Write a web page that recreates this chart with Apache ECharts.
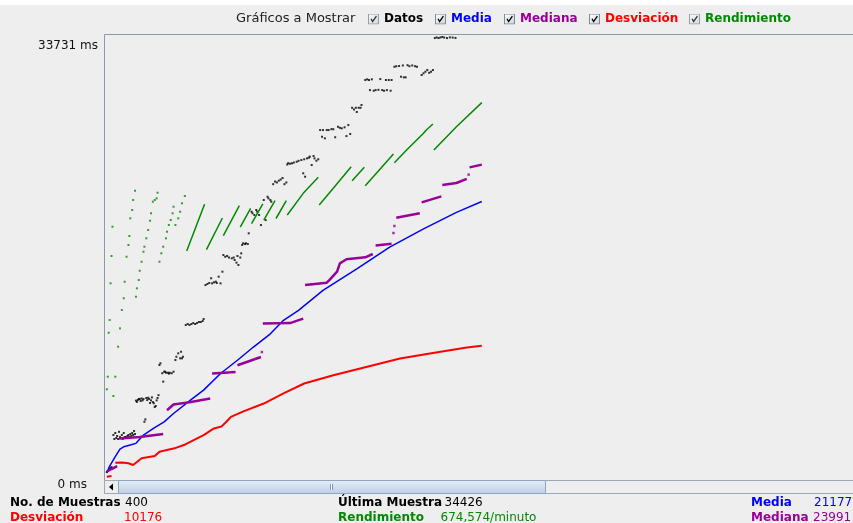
<!DOCTYPE html>
<html>
<head>
<meta charset="utf-8">
<script src="https://cdn.jsdelivr.net/npm/echarts/dist/echarts.min.js"></script>
<style>
html,body{margin:0;padding:0;background:#eeeeee;}
#chart{width:853px;height:523px;}
</style>
</head>
<body>
<div id="chart"></div>
<script>
// ---- data (sample index, milliseconds) ----
const yAxisMax = 33731;
const seriesNames = ['Datos', 'Media', 'Mediana', 'Desviación', 'Rendimiento'];

const datos = [
  [1,530],[2,610],[3,690],[4,760],[5,840],[6,910],
  [8,3360],[9,3050],[10,3510],[11,3130],[12,3280],[13,3050],[14,3600],[15,3200],[16,3130],[17,3360],[18,3050],[19,3510],[20,3200],[21,3210],[22,3130],[23,3280],[24,3360],[25,3200],[26,3430],[27,3280],[28,3510],[29,3360],[30,3660],[31,3430],
  [32,5980],[33,5880],[34,6030],[35,6110],[36,6100],[37,5950],[38,6150],[39,6000],[40,6100],[41,4370],[42,4550],[43,6180],[44,6020],[45,6200],[46,6110],[47,5800],[48,6000],[49,6230],[50,5870],[51,5780],[52,5490],[53,5570],[54,6000],[55,6180],[56,6400],
  [57,8700],[58,8830],[60,8070],[61,7430],[62,8190],[63,8190],[64,8110],[66,8110],[67,8040],[68,8110],[70,8070],[72,8190],[74,9080],[75,9330],[77,9590],[79,9210],[80,9710],[81,9210],[82,9330],
  [85,11750],[87,11830],[89,11750],[91,11830],[93,11900],[95,11830],[97,11900],[99,11980],[101,11980],[103,12060],[104,12210],
  [106,14800],[108,14880],[110,14960],[112,15320],[113,14930],[115,15010],[117,15060],[118,14960],[120,15440],[122,14930],[124,15820],
  [125,17090],[127,16960],[129,17020],[131,16900],[134,16840],[136,16900],[137,16710],[139,16510],[140,17020],[141,16330],[143,16900],[144,17220],
  [145,17860],[146,17990],[148,17930],[149,17990],[151,17930],[152,18750],
  [155,20400],[156,20280],[158,20150],[160,20530],[161,20400],[163,20150],[165,19380],[168,21290],[170,19760],[172,21540],[173,21420],[175,21290],[176,21160],
  [178,22500],[180,22700],[182,22630],[184,22770],[186,22850],[188,22970],[190,22500],[192,22630],
  [193,24000],[194,24100],[196,24060],[198,24090],[200,24150],[203,24210],[205,24280],[208,24340],[210,23330],[211,24400],[212,23070],[214,24470],[216,24520],[217,24600],[219,23960],[221,24650],[222,24470],[224,24290],[226,24400],
  [228,26630],[230,26120],[231,26630],[233,26000],[235,26630],[237,26630],[240,26700],[242,26690],[244,26080],[247,26880],[249,26800],[251,26760],[254,26840],[256,26170],[258,27010],[260,26330],
  [262,28330],[264,28200],[266,28330],[267,28010],[269,28330],[271,28330],[272,28540],
  [276,30450],[278,30500],[280,30450],[283,30500],[292,30520],[298,30450],[301,30450],[304,30450],
  [281,29680],[285,29630],[287,29680],[290,29700],[294,29680],[296,29630],[299,29680],[303,29630],
  [307,31460],[309,31500],[312,31520],[316,31560],[321,31580],[323,31500],[326,31560],[329,31500],[331,31460],
  [314,30700],[317,30650],[319,30650],
  [336,30830],[338,30960],[340,31080],[342,31210],[344,31000],[346,31080],[348,31210],
  [350,33650],[352,33700],[354,33650],[356,33700],[358,33731],[360,33690],[363,33650],[366,33700],[369,33690],[372,33660],
  [400,34426]
];

const media = [
  [1,460],[4,990],[10,1700],[15,2280],[19,2460],[26,2600],[32,2720],[40,3350],[51,3880],[62,4360],[72,5000],
  [90,6015],[104,6780],[122,8050],[140,9060],[157,10070],[175,11080],[189,12110],[205,12870],[231,14390],
  [267,16040],[302,17690],[338,19090],[373,20350],[400,21177]
];

const mediana = [
  [1,556],[6,761],[12,990], null,
  [14,3100],[36,3200],[61,3430], null,
  [65,5250],[72,5690],[89,5860],[111,6150], null,
  [113,8050],[138,8170], null,
  [140,8680],[165,9310], null,
  [167,11860],[196,11900],[210,12240], null,
  [212,14800],[235,14980],[238,15190],[246,15820],[249,16460],[256,16770],[276,16920],[284,17170], null,
  [287,17820],[304,17950], null,
  [309,19930],[334,20280], null,
  [336,21110],[357,21570], null,
  [358,22440],[373,22590],[384,22900], null,
  [387,23780],[400,23991]
];
const medianaPuntos = [[166,9690],[306,18770],[307,19310],[386,23230]];

const desviacion = [
  [1,180],[6,230], null,
  [10,1240],[17,1260],[24,1200],[29,1070],[31,1100],[38,1580],[52,1750],[57,2080],[73,2340],[83,2590],[95,3020],
  [104,3350],[115,3860],[123,4000],[128,4350],[133,4740],[147,5180],[168,5760],[189,6530],[211,7290],[242,7920],
  [277,8550],[313,9190],[348,9620],[384,10030],[400,10176]
];

const rendimientoPuntos = [
  [1,6845],[2,7807],[3,11164],[4,12133],[5,14934],[6,17017],[7,19253],
  [8,6334],[10,7807],[13,10096],[15,11500],[17,12896],[19,13790],[20,15056],[22,16964],[24,17857],[25,18543],[26,19894],[28,20527],[29,21290],[31,22000],
  [32,13911],[33,14552],[35,15186],[36,15895],[38,16582],[40,17345],[41,17727],[43,18368],[45,19001],[47,19711],[48,20276],[50,21161],[52,21290],[54,21420],[55,21847],
  [57,16582],[59,17223],[61,17727],[64,18368],[65,18871],[67,19383],[69,19764],[71,20276],[72,20779],
  [74,19383],[77,19894],[79,20398],[81,21038],[84,21596]
];

const rendimientoLineas = [
  [86,17400],[105,20960], null,
  [107,17510],[124,19920], null,
  [125,18580],[142,20860], null,
  [143,19230],[154,20660], null,
  [155,19480],[167,20990], null,
  [168,19760],[180,21250], null,
  [181,19880],[192,21240], null,
  [193,20150],[210,21800],[226,23020], null,
  [227,20910],[244,22360],[261,23830], null,
  [262,22760],[275,23790], null,
  [276,22380],[306,24800], null,
  [307,24140],[320,25110],[338,26380],[341,26630],[343,26690],[348,27090], null,
  [349,25110],[373,26880],[400,28720]
];

const footerLabels = ['No. de Muestras', 'Desviación', 'Última Muestra', 'Rendimiento', 'Media', 'Mediana'];
const footerValues = ['400', '10176', '34426', '674,574/minuto', '21177', '23991'];

// ---- styling ----
const FONT = 'DejaVu Sans';
const colors = {
  'Datos': '#000000', 'Media': '#0000ff', 'Mediana': '#990099',
  'Desviación': '#ff0000', 'Rendimiento': '#008a00'
};
const gaps = arr => arr.map(p => p === null ? '-' : p);

const svg = "<svg xmlns='http://www.w3.org/2000/svg' width='11' height='11'>" +
  "<defs><linearGradient id='g' x1='0' y1='0' x2='1' y2='1'><stop offset='0' stop-color='#ffffff'/><stop offset='1' stop-color='#c9d3de'/></linearGradient></defs>" +
  "<rect x='0.5' y='0.5' width='10' height='10' fill='url(#g)' stroke='#7d8a98'/>" +
  "<path d='M3 5.2 L4.6 8 L8.4 2.6' fill='none' stroke='#000' stroke-width='1.3'/></svg>";
const checkbox = 'image://data:image/svg+xml;charset=utf-8,' + encodeURIComponent(svg);

const legendLeft = [368, 435, 504, 589, 689];

const footerPos = [[10,503],[10,517.5],[338,503],[338,517.5],[751,503],[751,517.5]];
const footerValPos = [[125,503],[124,517.5],[444.5,503],[440.5,517.5],[814,503],[813,517.5]];
const footerColors = ['#000000','#ff0000','#000000','#008a00','#0000ff','#990099'];

const graphic = [
  { type: 'rect', shape: {x: 0, y: 0, width: 853, height: 5}, style: {fill: '#ffffff'}, silent: true, z: -10 },
  { type: 'polyline', shape: {points: [[104.5, 480], [104.5, 34.5], [853, 34.5]]}, style: {stroke: '#8d99a8', fill: null, lineWidth: 1}, silent: true },
  // scrollbar
  { type: 'rect', shape: {x: 104.5, y: 480.5, width: 749, height: 13}, style: {fill: '#eeeeee', stroke: '#9aa8b8'}, silent: true },
  { type: 'rect', shape: {x: 104.5, y: 480.5, width: 14, height: 13}, style: {fill: '#eeeeee', stroke: '#9aa8b8'}, silent: true },
  { type: 'polygon', shape: {points: [[109, 487], [113, 483.5], [113, 490.5]]}, style: {fill: '#000'}, silent: true },
  { type: 'rect', shape: {x: 118.5, y: 480.5, width: 427, height: 13},
    style: {fill: new echarts.graphic.LinearGradient(0, 0, 0, 1, [{offset: 0, color: '#e6eef7'}, {offset: 1, color: '#bccfe4'}]), stroke: '#8ea6c2'}, silent: true },
  { type: 'line', shape: {x1: 330.5, y1: 484, x2: 330.5, y2: 490}, style: {stroke: '#7f97b5'}, silent: true },
  { type: 'line', shape: {x1: 332.5, y1: 484, x2: 332.5, y2: 490}, style: {stroke: '#7f97b5'}, silent: true },
  { type: 'line', shape: {x1: 331.5, y1: 484, x2: 331.5, y2: 490}, style: {stroke: '#ffffff'}, silent: true }
];
footerLabels.forEach((t, k) => {
  graphic.push({ type: 'text', x: footerPos[k][0], y: footerPos[k][1], silent: true,
    style: {text: t, fill: footerColors[k], font: 'bold 12px "' + FONT + '"', verticalAlign: 'middle', align: 'left'} });
  graphic.push({ type: 'text', x: footerValPos[k][0], y: footerValPos[k][1], silent: true,
    style: {text: footerValues[k], fill: footerColors[k], font: '12px "' + FONT + '"', verticalAlign: 'middle', align: 'left'} });
});

const chart = echarts.init(document.getElementById('chart'), null, {renderer: 'canvas'});
chart.setOption({
  animation: false,
  backgroundColor: '#eeeeee',
  textStyle: {fontFamily: FONT},
  title: {
    text: 'Gráficos a Mostrar', left: 236, top: 12, padding: 0,
    textStyle: {fontFamily: FONT, fontSize: 13, fontWeight: 'normal', color: '#222222'}
  },
  legend: seriesNames.map((n, k) => ({
    left: legendLeft[k], top: 13, padding: 0, itemGap: 0,
    itemWidth: 11, itemHeight: 11,
    data: [{name: n, icon: checkbox, textStyle: {color: colors[n]}}],
    textStyle: {fontFamily: FONT, fontSize: 12, fontWeight: 'bold'}
  })),
  grid: {left: 104, right: -1, top: 37, bottom: 44, containLabel: false},
  xAxis: {type: 'value', min: -2, max: 795, show: false},
  yAxis: {
    type: 'value', min: 0, max: yAxisMax, interval: yAxisMax,
    axisLine: {show: false}, axisTick: {show: false}, splitLine: {show: false},
    axisLabel: {
      showMinLabel: true, showMaxLabel: true, margin: 6,
      formatter: v => v === 0 ? '{b|' + v + ' ms}' : '{t|' + v + ' ms}',
      rich: {
        t: {padding: [17, 0, 0, 0], fontSize: 12, fontFamily: FONT, color: '#111111'},
        b: {padding: [11, 11, 0, 0], fontSize: 12, fontFamily: FONT, color: '#111111'}
      }
    }
  },
  graphic: graphic,
  series: [
    { name: 'Datos', type: 'scatter', data: datos, symbol: 'rect', symbolSize: 2,
      itemStyle: {color: colors['Datos']}, clip: true, z: 3 },
    { name: 'Rendimiento', type: 'scatter', data: rendimientoPuntos, symbol: 'rect', symbolSize: 2,
      itemStyle: {color: colors['Rendimiento']}, z: 3 },
    { name: 'Rendimiento', type: 'line', data: gaps(rendimientoLineas), showSymbol: false, connectNulls: false,
      lineStyle: {color: colors['Rendimiento'], width: 1.5}, itemStyle: {color: colors['Rendimiento']}, z: 4 },
    { name: 'Media', type: 'line', data: media, showSymbol: false,
      lineStyle: {color: colors['Media'], width: 1.5}, itemStyle: {color: colors['Media']}, z: 5 },
    { name: 'Mediana', type: 'line', data: gaps(mediana), showSymbol: false, connectNulls: false,
      lineStyle: {color: colors['Mediana'], width: 2.5}, itemStyle: {color: colors['Mediana']}, z: 5 },
    { name: 'Mediana', type: 'scatter', data: medianaPuntos, symbol: 'rect', symbolSize: 2.5,
      itemStyle: {color: colors['Mediana']}, z: 5 },
    { name: 'Desviación', type: 'line', data: gaps(desviacion), showSymbol: false, connectNulls: false,
      lineStyle: {color: colors['Desviación'], width: 2}, itemStyle: {color: colors['Desviación']}, z: 5 }
  ]
});
</script>
</body>
</html>
